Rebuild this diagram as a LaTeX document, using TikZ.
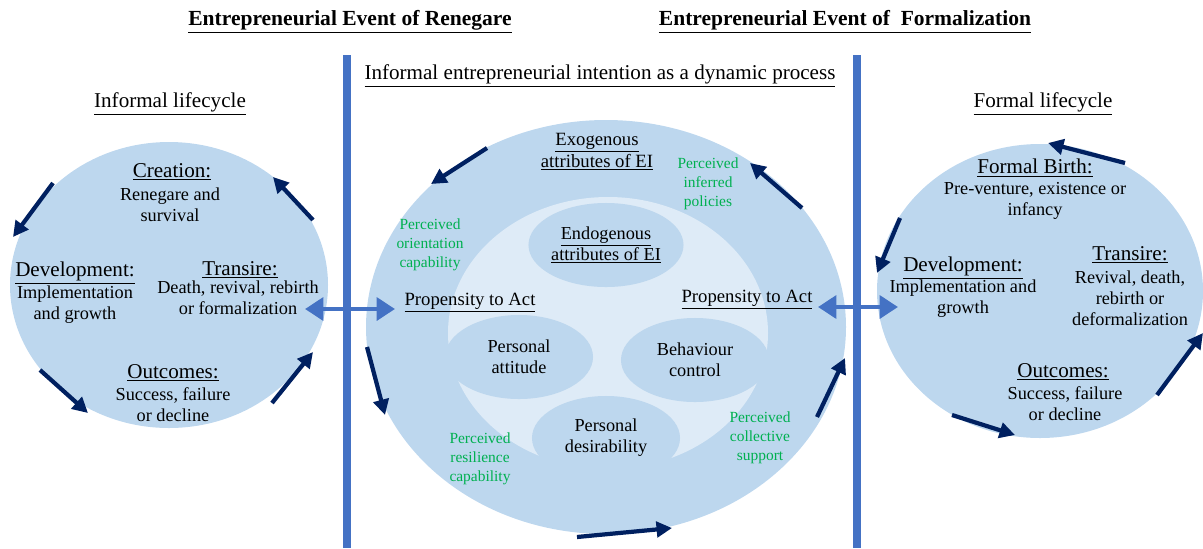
\documentclass[tikz,border=0pt]{standalone}
\usepackage{fontspec}
\setmainfont{Liberation Serif}
\usetikzlibrary{arrows.meta, positioning, shapes.geometric}
\definecolor{cycblue}{RGB}{189, 215, 238}
\definecolor{cycpale}{RGB}{222, 235, 247}
\definecolor{cycnavy}{RGB}{0, 32, 96}
\definecolor{barblue}{RGB}{68, 114, 196}
\definecolor{percgreen}{RGB}{0, 176, 80}

\begin{document}
\begin{tikzpicture}[x=0.025cm, y=-0.025cm,
    hd/.style={font=\fontsize{15}{17}\selectfont, inner sep=1pt},
    txt/.style={font=\fontsize{13}{15}\selectfont, align=center, inner sep=1pt},
    perc/.style={font=\fontsize{11}{13.4}\selectfont, text=percgreen, align=center, inner sep=1pt},
    attr/.style={ellipse, fill=cycblue, inner sep=0pt, minimum width=3.7cm, minimum height=2.1cm,
                 font=\fontsize{13}{15}\selectfont, align=center},
    event/.style={font=\fontsize{15.3}{17}\selectfont\bfseries, inner sep=1pt},
    cycarr/.style={cycnavy, line width=3pt, -{Triangle[length=11pt,width=11pt]}},
    evarr/.style={barblue, line width=3.5pt, {Triangle[length=13pt,width=16pt]}-{Triangle[length=13pt,width=16pt]}}]
                    \useasboundingbox (0,0) rectangle (1203,548);
                    % lifecycles and intention
                    \fill[cycblue] (169,285) ellipse [x radius=159, y radius=143];
                    \fill[cycblue] (1040,291) ellipse [x radius=163, y radius=147];
                    \fill[cycblue] (606,327) ellipse [x radius=240, y radius=207];
                    \fill[cycpale] (608,333) ellipse [x radius=160, y radius=136];
                    \node[attr] (endo) at (606,245) {\underline{Endogenous}\\\underline{attributes of EI}};
                    \node[attr] (att) at (519,357) {Personal\\attitude};
                    \node[attr] (beh) at (695,360) {Behaviour\\control};
                    \node[attr] (des) at (606,438) {Personal\\desirability};
                    % events
                    \draw[barblue, line width=5pt] (347,55) -- (347,548);
                    \draw[barblue, line width=5pt] (857,55) -- (857,548);
                    \node[event] (evRen) at (350,22) {\underline{Entrepreneurial Event of Renegare}};
                    \node[event] (evFor) at (845,22) {\underline{Entrepreneurial Event of~ Formalization}};
                    \coordinate (evL1) at (305,309);
                    \coordinate (evL2) at (395,309);
                    \coordinate (evR1) at (818,307);
                    \coordinate (evR2) at (898,307);
                    \draw[evarr] (evL1) -- (evL2);
                    \draw[evarr] (evR1) -- (evR2);
                    % cycle arrows
                    \foreach \n/\s/\e in {i1/{53,183}/{13,237}, i2/{313,220}/{273,177}, i3/{40,370}/{88,413}, i4/{272,403}/{313,352},
                                         m1/{487,148}/{431,184}, m2/{802,208}/{750,163}, m3/{367,347}/{385,415}, m4/{577,537}/{672,528}, m5/{817,417}/{845,358},
                                         f1/{1125,163}/{1048,143}, f2/{900,218}/{877,273}, f3/{952,415}/{1015,435}, f4/{1157,395}/{1203,333}} {
                        \coordinate (\n s) at (\s);
                        \coordinate (\n e) at (\e);
                        \draw[cycarr] (\n s) -- (\n e);
                    }
                    % informal lifecycle
                    \node[hd] (infHd) at (170,104) {\underline{Informal lifecycle}};
                    \node[hd] (crHd) at (172,172) {\underline{Creation:}};
                    \node[txt] (crTx) at (170,205) {Renegare and\\survival};
                    \node[hd] (dvHd) at (75,273) {\underline{Development:}};
                    \node[txt] (dvTx) at (75,305) {Implementation\\and growth};
                    \node[hd] (trHd) at (240,270) {\underline{Transire:}};
                    \node[txt] (trTx) at (238,298) {Death, revival, rebirth\\or formalization};
                    \node[hd] (ouHd) at (173,373) {\underline{Outcomes:}};
                    \node[txt] (ouTx) at (173,405) {Success, failure\\or decline};
                    % intention
                    \node[hd] (midHd) at (600,76) {\underline{Informal entrepreneurial intention as a dynamic process}};
                    \node[txt, font=\fontsize{13.3}{15.5}\selectfont] (exo) at (597,152) {\underline{Exogenous}\\\underline{attributes of EI}};
                    \node[txt, font=\fontsize{13.3}{16}\selectfont] (propL) at (470,303) {\underline{Propensity to Act}};
                    \node[txt, font=\fontsize{13.3}{16}\selectfont] (propR) at (747,300) {\underline{Propensity to Act}};
                    \node[perc] (pol) at (708,184) {Perceived\\inferred\\policies};
                    \node[perc] (ori) at (430,245) {Perceived\\orientation\\capability};
                    \node[perc] (res) at (480,459) {Perceived\\resilience\\capability};
                    \node[perc] (col) at (760,438) {Perceived\\collective\\support};
                    % formal lifecycle
                    \node[hd] (forHd) at (1043,104) {\underline{Formal lifecycle}};
                    \node[hd] (fbHd) at (1035,168) {\underline{Formal Birth:}};
                    \node[txt] (fbTx) at (1035,201) {Pre-venture, existence or\\infancy};
                    \node[hd] (dvHdF) at (963,268) {\underline{Development:}};
                    \node[txt] (dvTxF) at (963,299) {Implementation and\\growth};
                    \node[hd] (trHdF) at (1130,255) {\underline{Transire:}};
                    \node[txt] (trTxF) at (1130,298) {Revival, death,\\rebirth or\\deformalization};
                    \node[hd] (ouHdF) at (1063,372) {\underline{Outcomes:}};
                    \node[txt] (ouTxF) at (1065,404) {Success, failure\\or decline};
                \end{tikzpicture}
\end{document}
